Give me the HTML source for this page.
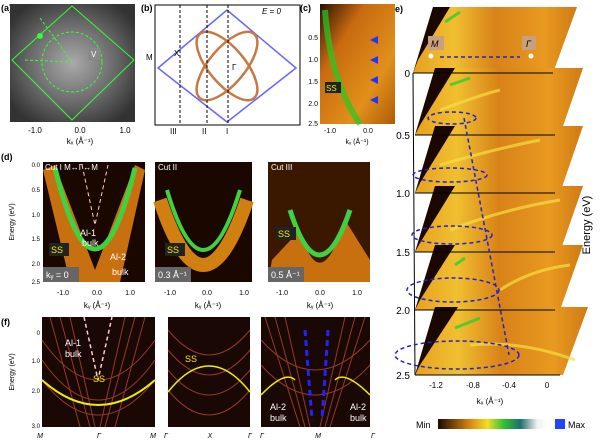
<!DOCTYPE html><html><head><style>body{margin:0;background:#fff}svg{display:block;font-family:"Liberation Sans",sans-serif}</style></head><body>
<svg width="600" height="442" viewBox="0 0 600 442">
<defs>
<radialGradient id="gr" cx="50%" cy="50%" r="60%"><stop offset="0" stop-color="#aaa"/><stop offset="0.6" stop-color="#666"/><stop offset="1" stop-color="#333"/></radialGradient>
<linearGradient id="org" x1="0" y1="0" x2="1" y2="1"><stop offset="0" stop-color="#2a1200"/><stop offset="0.3" stop-color="#c86a10"/><stop offset="0.7" stop-color="#e0901a"/><stop offset="1" stop-color="#b05a08"/></linearGradient>
<linearGradient id="sl" x1="0" y1="0" x2="1" y2="0"><stop offset="0" stop-color="#e8a020"/><stop offset="0.25" stop-color="#f0c030"/><stop offset="0.5" stop-color="#d88218"/><stop offset="0.8" stop-color="#e89a20"/><stop offset="1" stop-color="#d07a14"/></linearGradient>
<linearGradient id="cb" x1="0" x2="1"><stop offset="0" stop-color="#1a0a00"/><stop offset="0.3" stop-color="#e08a10"/><stop offset="0.45" stop-color="#f0e020"/><stop offset="0.6" stop-color="#30c030"/><stop offset="0.75" stop-color="#207070"/><stop offset="0.9" stop-color="#f0f0f0"/><stop offset="1" stop-color="#fff"/></linearGradient>
</defs>
<g font-size="9" font-weight="bold"><text x="1" y="11">(a)</text><text x="141" y="11">(b)</text><text x="1" y="160">(d)</text><text x="1" y="325">(f)</text><text x="392" y="12">(e)</text></g>
<!-- (a) -->
<rect x="10" y="4" width="125" height="118" fill="url(#gr)"/>
<polygon points="72,6 134,60 72,120 12,60" fill="none" stroke="#3f3" stroke-width="1"/>
<circle cx="72" cy="62" r="30" fill="none" stroke="#3f3" stroke-dasharray="3,2"/>
<line x1="25" y1="60" x2="72" y2="62" stroke="#3f3" stroke-dasharray="3,2"/><line x1="40" y1="18" x2="72" y2="62" stroke="#3f3" stroke-dasharray="3,2"/>
<circle cx="40" cy="36" r="3" fill="#3f3"/><rect x="88" y="48" width="12" height="12" fill="#888"/><text x="91" y="57" font-size="8" fill="#fff">V</text>
<g font-size="8" text-anchor="middle"><text x="35" y="133">-1.0</text><text x="80" y="133">0.0</text><text x="125" y="133">1.0</text><text x="80" y="144">kₓ (Å⁻¹)</text></g>
<!-- (b) -->
<rect x="155" y="5" width="145" height="120" fill="#fff" stroke="#000"/>
<polygon points="227,10 296,68 227,122 158,68" fill="none" stroke="#66f" stroke-width="1.5"/>
<ellipse cx="227" cy="66" rx="18" ry="42" fill="none" stroke="#c87840" stroke-width="2.5" transform="rotate(40 227 66)"/>
<ellipse cx="227" cy="66" rx="18" ry="42" fill="none" stroke="#c87840" stroke-width="2.5" transform="rotate(-40 227 66)"/>
<g stroke="#000" stroke-dasharray="3,2"><line x1="180" y1="5" x2="180" y2="125"/><line x1="207" y1="5" x2="207" y2="125"/><line x1="228" y1="5" x2="228" y2="125"/></g>
<g font-size="8"><text x="170" y="134">III</text><text x="202" y="134">II</text><text x="226" y="134">I</text><text x="146" y="60">M</text><text x="262" y="14" font-style="italic">E = 0</text><text x="174" y="56">X</text><text x="232" y="70">Γ</text></g>
<!-- (c) -->
<text x="300" y="11" font-size="9" font-weight="bold">(c)</text>
<rect x="320" y="4" width="75" height="120" fill="url(#org)"/>
<path d="M325,10 Q330,80 360,124" stroke="#2c2" stroke-width="6" fill="none" opacity=".7"/>
<g fill="#23f"><path d="M370,40 l8,-4 v8z"/><path d="M370,60 l8,-4 v8z"/><path d="M370,80 l8,-4 v8z"/><path d="M370,100 l8,-4 v8z"/></g>
<rect x="325" y="82" width="16" height="11" fill="#222"/><text x="326" y="91" font-size="8" fill="#ee0">SS</text>
<g font-size="7" text-anchor="end"><text x="318" y="40">0.5</text><text x="318" y="62">1.0</text><text x="318" y="84">1.5</text><text x="318" y="106">2.0</text><text x="318" y="126">2.5</text></g>
<g font-size="7" text-anchor="middle"><text x="330" y="133">-1.0</text><text x="368" y="133">0.0</text><text x="357" y="144">kₓ (Å⁻¹)</text></g>
<!-- (d) -->
<g>
<rect x="43" y="162" width="102" height="120" fill="#1a0800"/>
<path d="M43,170 L70,282 L120,282 L145,170 L135,165 L95,270 L55,165Z" fill="#c87010"/>
<path d="M55,168 Q95,330 135,168" stroke="#40d040" stroke-width="5" fill="none"/>
<path d="M82,165 L95,225 L108,165" stroke="#fcc" stroke-dasharray="4,3" fill="none"/>
<rect x="155" y="162" width="97" height="120" fill="#1a0800"/>
<path d="M160,200 Q203,330 247,200" stroke="#d08010" stroke-width="14" fill="none"/>
<path d="M167,190 Q203,310 240,190" stroke="#40d040" stroke-width="4" fill="none"/>
<rect x="268" y="162" width="102" height="120" fill="#3a1800"/>
<path d="M272,260 L300,230 Q320,300 345,220 L370,260 L370,282 L268,282Z" fill="#c87010"/>
<path d="M290,210 Q319,300 350,210" stroke="#40d040" stroke-width="5" fill="none"/>
<g font-size="8" fill="#fff"><text x="45" y="170">Cut I  M↔Γ↔M</text><text x="158" y="170">Cut II</text><text x="271" y="170">Cut III</text></g>
<g font-size="9"><rect x="49" y="243" width="20" height="13" fill="#222"/><text x="51" y="253" fill="#ee0">SS</text>
<rect x="165" y="243" width="20" height="13" fill="#222"/><text x="167" y="253" fill="#ee0">SS</text>
<rect x="276" y="227" width="20" height="13" fill="#222"/><text x="278" y="237" fill="#ee0">SS</text>
<rect x="43" y="267" width="36" height="15" fill="#666"/><text x="46" y="278" fill="#fff">kᵧ = 0</text>
<rect x="155" y="267" width="36" height="15" fill="#666"/><text x="158" y="278" fill="#fff">0.3 Å⁻¹</text>
<rect x="268" y="267" width="36" height="15" fill="#666"/><text x="271" y="278" fill="#fff">0.5 Å⁻¹</text>
<text x="80" y="236" fill="#fff">Al-1</text><text x="82" y="246" fill="#fff">bulk</text><text x="110" y="260" fill="#fff">Al-2</text><text x="112" y="275" fill="#fff">bulk</text></g>
<g font-size="6" text-anchor="end"><text x="40" y="167">0.0</text><text x="40" y="192">0.5</text><text x="40" y="217">1.0</text><text x="40" y="241">1.5</text><text x="40" y="266">2.0</text><text x="40" y="284">2.5</text></g>
<text x="14" y="222" font-size="7" transform="rotate(-90 14 222)" text-anchor="middle">Energy (eV)</text>
<g font-size="7" text-anchor="middle"><text x="63" y="295">-1.0</text><text x="97" y="295">0.0</text><text x="130" y="295">1.0</text><text x="170" y="295">-1.0</text><text x="207" y="295">0.0</text><text x="244" y="295">1.0</text><text x="282" y="295">-1.0</text><text x="320" y="295">0.0</text><text x="357" y="295">1.0</text>
<text x="97" y="308" font-size="8">kᵧ (Å⁻¹)</text><text x="208" y="308" font-size="8">kᵧ (Å⁻¹)</text><text x="320" y="308" font-size="8">kᵧ (Å⁻¹)</text></g>
</g>
<!-- (f) -->
<g>
<rect x="42" y="317" width="113" height="110" fill="#1a0805"/><rect x="168" y="317" width="82" height="110" fill="#1a0805"/><rect x="261" y="317" width="109" height="110" fill="#1a0805"/>
<g stroke="#a04030" stroke-width="1" fill="none" opacity=".9">
<path d="M50,317 L80,427 M60,317 L90,427 M70,317 L95,427 M145,317 L115,427 M135,317 L105,427 M125,317 L100,427"/>
<path d="M42,340 Q98,420 155,340 M42,360 Q98,440 155,360 M42,380 Q98,450 155,380"/>
<path d="M168,330 Q209,380 250,330 M168,350 Q209,400 250,350 M168,370 Q209,420 250,370 M168,390 Q209,440 250,390"/>
<path d="M265,317 L300,427 M275,317 L305,427 M285,317 L310,427 M365,317 L330,427 M355,317 L325,427 M345,317 L320,427"/>
<path d="M261,340 Q315,400 370,340 M261,365 Q315,425 370,365"/></g>
<path d="M42,380 Q98,430 155,380" stroke="#ee0" stroke-width="2" fill="none"/>
<path d="M168,392 Q209,340 250,392" stroke="#ee0" stroke-width="1.5" fill="none"/>
<path d="M261,395 Q285,370 295,380 M370,395 Q345,370 335,380" stroke="#ee0" stroke-width="1.5" fill="none"/>
<path d="M84,317 L98,380 L112,317" stroke="#fcc" stroke-dasharray="4,3" stroke-width="1.5" fill="none"/>
<g stroke="#22f" stroke-width="3" stroke-dasharray="6,4"><line x1="305" y1="330" x2="312" y2="420"/><line x1="328" y1="330" x2="322" y2="420"/></g>
<g font-size="9" fill="#fff"><text x="65" y="346">Al-1</text><text x="65" y="357">bulk</text><text x="270" y="410">Al-2</text><text x="270" y="421">bulk</text><text x="350" y="410">Al-2</text><text x="350" y="421">bulk</text></g>
<text x="93" y="382" font-size="9" fill="#ee0">SS</text><text x="185" y="362" font-size="9" fill="#ee0">SS</text>
<g font-size="6" text-anchor="end"><text x="40" y="335">0</text><text x="40" y="363">1.0</text><text x="40" y="393">2.0</text><text x="40" y="428">3.0</text></g>
<text x="14" y="372" font-size="7" transform="rotate(-90 14 372)" text-anchor="middle">Energy (eV)</text>
<g font-size="7" font-style="italic" text-anchor="middle"><text x="40" y="438">M</text><text x="99" y="438">Γ</text><text x="153" y="438">M</text><text x="166" y="438">Γ</text><text x="210" y="438">X</text><text x="250" y="438">Γ</text><text x="262" y="438">Γ</text><text x="318" y="438">M</text><text x="373" y="438">Γ</text></g>
</g>
<!-- (e) -->
<g>
<g id="slices">
<polygon points="433,7 577,7 553,73 413,73" fill="url(#sl)"/><polygon points="433,7 450,7 418,60 413,73" fill="#1a0800"/>
<polygon points="435,68 583,68 560,135 415,135" fill="url(#sl)"/><polygon points="435,68 455,68 420,125 415,135" fill="#1a0800"/>
<polygon points="435,126 583,126 560,193 415,193" fill="url(#sl)"/><polygon points="435,126 455,126 420,183 415,193" fill="#1a0800"/>
<polygon points="435,186 583,186 560,252 415,252" fill="url(#sl)"/><polygon points="435,186 455,186 420,243 415,252" fill="#1a0800"/>
<polygon points="435,245 583,245 560,310 415,310" fill="url(#sl)"/><polygon points="435,245 455,245 420,300 415,310" fill="#1a0800"/>
<polygon points="435,307 588,307 563,375 415,375" fill="url(#sl)"/><polygon points="435,307 458,307 420,365 415,375" fill="#1a0800"/>
</g>
<g stroke="#3c3" stroke-width="3" opacity=".8"><line x1="445" y1="22" x2="460" y2="12"/><line x1="450" y1="85" x2="470" y2="78"/><line x1="455" y1="265" x2="465" y2="258"/><line x1="455" y1="328" x2="480" y2="318"/></g>
<g stroke="#f5e040" stroke-width="3" fill="none" opacity=".7"><path d="M440,110 Q480,95 500,90"/><path d="M440,165 Q490,150 540,140"/><path d="M450,230 Q500,210 560,200"/><path d="M500,290 Q530,270 570,265"/><path d="M470,345 Q520,340 575,360"/></g>
<g stroke="#000"><line x1="413" y1="73" x2="415" y2="375"/><line x1="413" y1="73" x2="553" y2="73"/><line x1="415" y1="135" x2="555" y2="135"/><line x1="415" y1="193" x2="555" y2="193"/><line x1="415" y1="252" x2="555" y2="252"/><line x1="415" y1="310" x2="555" y2="310"/><line x1="415" y1="375" x2="560" y2="375"/></g>
<rect x="428" y="36" width="16" height="14" fill="#c8a080"/><text x="431" y="47" font-size="9" font-style="italic">M</text>
<rect x="522" y="36" width="14" height="14" fill="#c8a080"/><text x="526" y="47" font-size="9" font-style="italic">Γ</text>
<circle cx="431" cy="56" r="2.5" fill="#fff"/><circle cx="531" cy="56" r="2.5" fill="#fff"/>
<line x1="440" y1="57" x2="520" y2="57" stroke="#22c" stroke-dasharray="4,3" stroke-width="1.5"/>
<g fill="none" stroke="#22c" stroke-width="1.5" stroke-dasharray="4,3"><ellipse cx="452" cy="118" rx="24" ry="6"/><ellipse cx="450" cy="175" rx="37" ry="7"/><ellipse cx="452" cy="235" rx="40" ry="9"/><ellipse cx="453" cy="290" rx="46" ry="12"/><ellipse cx="457" cy="355" rx="62" ry="14"/><path d="M464,118 L509,355"/></g>
<g font-size="10" text-anchor="end"><text x="410" y="77">0</text><text x="410" y="139">0.5</text><text x="410" y="197">1.0</text><text x="410" y="256">1.5</text><text x="410" y="314">2.0</text><text x="410" y="379">2.5</text></g>
<text x="590" y="225" font-size="11" transform="rotate(-90 590 225)" text-anchor="middle">Energy (eV)</text>
<g font-size="8" text-anchor="middle"><text x="436" y="388">-1.2</text><text x="473" y="388">-0.8</text><text x="509" y="388">-0.4</text><text x="547" y="388">0</text><text x="490" y="404">kₓ (Å⁻¹)</text></g>
<text x="416" y="428" font-size="9">Min</text><rect x="438" y="419" width="110" height="10" fill="url(#cb)"/><rect x="555" y="419" width="10" height="10" fill="#24f"/><text x="568" y="428" font-size="9">Max</text>
</g>
</svg></body></html>
